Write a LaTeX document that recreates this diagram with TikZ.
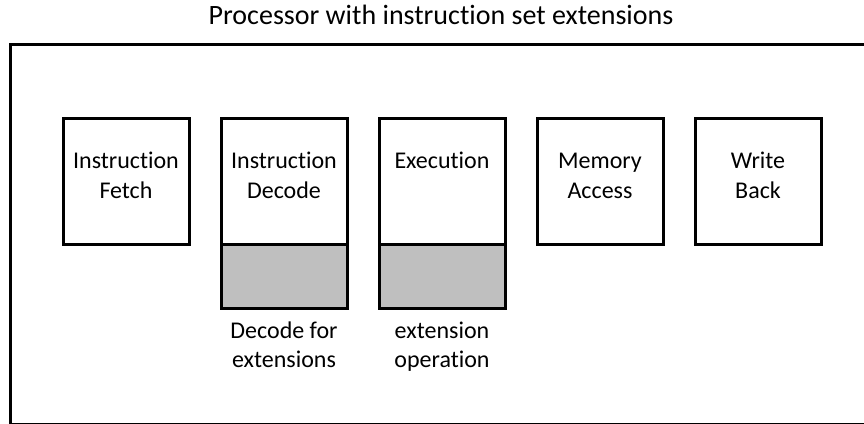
\documentclass[tikz,border=0pt]{standalone}
\usepackage{fontspec}
\setmainfont{Carlito}[Ligatures=NoCommon]
\begin{document}
\begin{tikzpicture}[x=1pt,y=-1pt,
  stage/.style={draw, line width=3pt, fill=white, minimum width=126pt, minimum height=126pt, inner sep=0pt, outer sep=0pt},
  extpart/.style={draw, line width=3pt, fill=gray75, minimum width=126pt, minimum height=63.5pt, inner sep=0pt, outer sep=0pt, anchor=north},
  txt/.style={font=\fontsize{24}{29.5}\selectfont, align=center, inner sep=0pt, anchor=base},
  titletxt/.style={font=\fontsize{28}{34}\selectfont, inner sep=0pt, anchor=base}
]
\definecolor{gray75}{HTML}{BFBFBF}
\useasboundingbox (0,0) rectangle (864,423);
\node[draw, line width=3pt, minimum width=860pt, minimum height=380pt, anchor=north west, inner sep=0pt, outer sep=0pt] (proc) at (10,44) {};
\node[titletxt] (title) at (441,24) {Processor with instruction set extensions};
\node[stage] (fetch) at (126,181.5) {};
\node[stage] (decode) at (284,181.5) {};
\node[stage] (exec) at (442,181.5) {};
\node[stage] (mem) at (600,181.5) {};
\node[stage] (wb) at (758,181.5) {};
\node[extpart] (decx) at (decode.south) {};
\node[extpart] (execx) at (exec.south) {};
\node[txt] (t1a) at (126,168.5) {Instruction};
\node[txt] (t1b) at (126,198.5) {Fetch};
\node[txt] (t2a) at (284,168.5) {Instruction};
\node[txt] (t2b) at (284,198.5) {Decode};
\node[txt] (t3a) at (442,168.5) {Execution};
\node[txt] (t4a) at (600,168.5) {Memory};
\node[txt] (t4b) at (600,198.5) {Access};
\node[txt] (t5a) at (758,168.5) {Write};
\node[txt] (t5b) at (758,198.5) {Back};
\node[txt] (d1) at (284,338) {Decode for};
\node[txt] (d2) at (284,367.5) {extensions};
\node[txt] (e1) at (442,338) {extension};
\node[txt] (e2) at (442,367.5) {operation};
\end{tikzpicture}
\end{document}
